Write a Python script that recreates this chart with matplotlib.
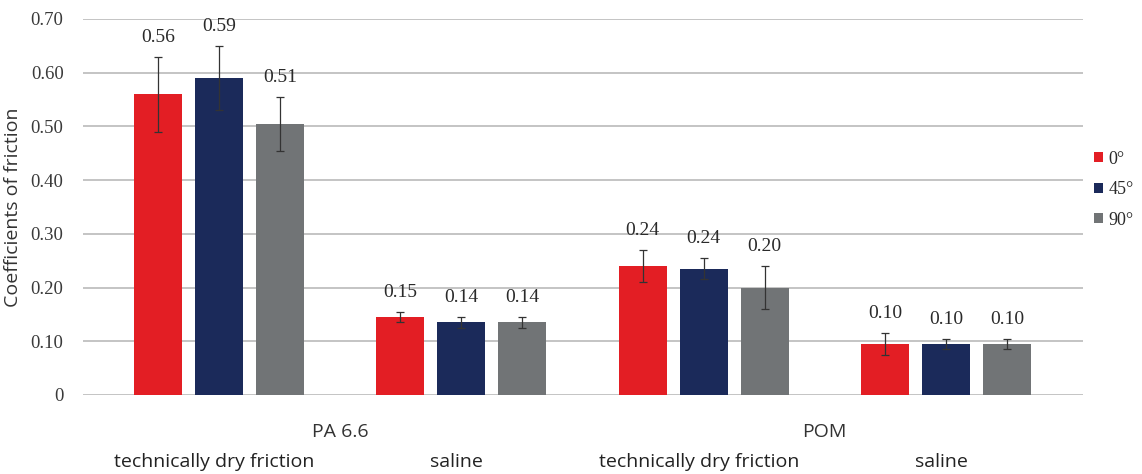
import matplotlib.pyplot as plt
from matplotlib.patches import Patch
import numpy as np

# groups along the x axis
groups = ["technically dry friction", "saline", "technically dry friction", "saline"]
materials = ["PA 6.6", "POM"]
angles = ["0°", "45°", "90°"]

# coefficients of friction per angle (one value per group)
cof_0 = [0.56, 0.145, 0.24, 0.095]
cof_45 = [0.59, 0.135, 0.235, 0.095]
cof_90 = [0.505, 0.135, 0.20, 0.095]

# error bar half-widths
err_0 = [0.07, 0.01, 0.03, 0.02]
err_45 = [0.06, 0.01, 0.02, 0.01]
err_90 = [0.05, 0.01, 0.04, 0.01]

# printed labels above the bars
lab_0 = ["0.56", "0.15", "0.24", "0.10"]
lab_45 = ["0.59", "0.14", "0.24", "0.10"]
lab_90 = ["0.51", "0.14", "0.20", "0.10"]

yticks = [0, 0.10, 0.20, 0.30, 0.40, 0.50, 0.60, 0.70]
ytick_labels = ["0", "0.10", "0.20", "0.30", "0.40", "0.50", "0.60", "0.70"]

colors = ["#e31e24", "#1b2a5a", "#717476"]
serif = "Liberation Serif"
sans = "Open Sans"

fig = plt.figure(figsize=(11.42, 4.74), dpi=100)
ax = fig.add_axes([0.0727, 0.1667, 0.8756, 0.7933])

x = np.arange(len(groups))
width = 0.198
step = 0.252

series = [(cof_0, err_0, lab_0), (cof_45, err_45, lab_45), (cof_90, err_90, lab_90)]
for k, (vals, errs, labs) in enumerate(series):
    pos = x + (k - 1) * step
    ax.bar(pos, vals, width, color=colors[k], zorder=3)
    ax.errorbar(pos, vals, yerr=errs, fmt="none", ecolor="#333333",
                elinewidth=0.9, capsize=3, capthick=0.9, zorder=4)
    for px, v, e, t in zip(pos, vals, errs, labs):
        ax.text(px, v + e + 0.02, t, ha="center", va="bottom",
                fontsize=14, family=serif, color="#2a2a2a")

ax.set_xlim(-0.562, 3.566)
ax.set_ylim(0, 0.70)
ax.set_yticks(yticks)
ax.set_yticklabels(ytick_labels, family=serif, fontsize=13.5, color="#3a3a3a")
ax.tick_params(axis="y", length=0, pad=14)
ax.set_xticks([])
ax.grid(axis="y", color="#bfbfbf", linewidth=1.3, zorder=0)
for s in ax.spines.values():
    s.set_visible(False)

ax.set_ylabel("Coefficients of friction", family=sans, fontsize=14,
              color="#333333", labelpad=6)

# material labels and condition labels below the axis
for i, m in enumerate(materials):
    ax.text(2 * i + 0.5, -0.068, m, ha="center", va="center", family=sans,
            fontsize=14, color="#333333", clip_on=False)
for i, g in enumerate(groups):
    ax.text(i - 0.02, -0.125, g, ha="center", va="center", family=sans,
            fontsize=14, color="#222222", clip_on=False)

handles = [Patch(facecolor=c, label=a) for c, a in zip(colors, angles)]
leg = fig.legend(handles=handles, loc="center left", bbox_to_anchor=(0.958, 0.6),
                 frameon=False, handlelength=0.5, handleheight=0.5,
                 handletextpad=0.3, labelspacing=0.75, borderpad=0,
                 borderaxespad=0, prop={"family": serif, "size": 13})
for t in leg.get_texts():
    t.set_color("#2a2a2a")

fig.savefig("out.png", dpi=100)
